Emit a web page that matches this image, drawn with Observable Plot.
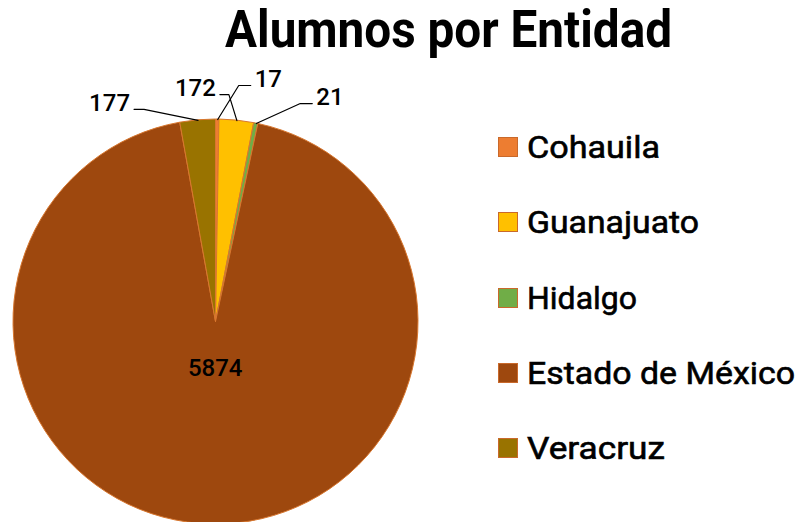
<!DOCTYPE html>
<html>
<head>
<meta charset="utf-8">
<script src="https://cdn.jsdelivr.net/npm/d3@7"></script>
<script src="https://cdn.jsdelivr.net/npm/@observablehq/plot@0.6"></script>
<style>
  html, body { margin: 0; padding: 0; background: #fff; }
  #wrap { position: relative; width: 797px; height: 522px; overflow: hidden; font-family: Roboto, "DejaVu Sans", sans-serif; }
  #title { position: absolute; left: 0; top: 4px; width: 797px; height: 58px; white-space: nowrap; }
  #title span { position: absolute; font-weight: 700; font-size: 52px; line-height: 52px; color: #000; transform-origin: left top; }
  #chart { position: absolute; left: 0; top: 62px; }
  #legend { position: absolute; left: 498px; top: 0; }
  .item { position: absolute; left: 0; white-space: nowrap; }
  .sw { position: absolute; left: 0; width: 18px; height: 18px; box-sizing: content-box; }
  .lab { position: absolute; left: 29px; font-size: 32px; font-weight: 400; line-height: 32px; color: #000; -webkit-text-stroke: 0.6px #000; transform-origin: left center; }
</style>
</head>
<body>
<div id="wrap">
  <div id="title"></div>
  <div id="chart"></div>
  <div id="legend"></div>
</div>
<script>
// ---- data ----
const titleText = "Alumnos por Entidad";
const categories = ["Cohauila", "Guanajuato", "Hidalgo", "Estado de México", "Veracruz"];
const values = [17, 172, 21, 5874, 177];
const colors = ["#ED7D31", "#FFC000", "#70AD47", "#9E480E", "#997300"];

// ---- layout (pixels) ----
const R = 202.5;               // pie radius
const CX = 215.5, CY = 259.5;  // pie centre inside the svg
const SVG_W = 797, SVG_H = 460;
// leader: elbow offset from rim anchor, then horizontal segment length (sign = side)
const leaderElbow = [[21, -34], [-8, -26], [44, -20], null, [-54, -11]];
const leaderRun = [12, -9, 12, null, -10];
const insideRadius = 0.23;     // for labels drawn inside a slice
const legendRows = [147, 222, 298, 373, 448]; // page y centres
const legendTextWidth = [133, 172, 110, 268, 138];

const slices = categories.map((c, i) => ({category: c, value: values[i], color: colors[i]}));
const arcs = d3.pie().sort(null).value(d => d.value)(slices);

// data-space helpers (unit circle, y up)
const polar = (a, r) => [r * Math.sin(a), r * Math.cos(a)];

const leaderPts = [];
const labelsLeft = [], labelsRight = [], labelsInside = [];
arcs.forEach((a, i) => {
  const mid = (a.startAngle + a.endAngle) / 2;
  const d = a.data;
  if (!leaderElbow[i]) {
    const [x, y] = polar(mid, insideRadius);
    labelsInside.push({x, y, text: String(d.value)});
    return;
  }
  const [ax, ay] = polar(mid, 1);
  const ex = ax + leaderElbow[i][0] / R, ey = ay - leaderElbow[i][1] / R;
  const tx = ex + leaderRun[i] / R, ty = ey;
  leaderPts.push({k: d.category, x: ax, y: ay}, {k: d.category, x: ex, y: ey}, {k: d.category, x: tx, y: ty});
  const gap = 4 / R;
  const lab = {x: tx + (leaderRun[i] > 0 ? gap : -gap), y: ty - 1.5 / R, text: String(d.value)};
  (leaderRun[i] > 0 ? labelsRight : labelsLeft).push(lab);
});

function pieMark(index, scales) {
  const cx = scales.x(0), cy = scales.y(0), r = scales.x(1) - scales.x(0);
  const arc = d3.arc().innerRadius(0).outerRadius(r);
  const g = d3.create("svg:g").attr("transform", `translate(${cx},${cy})`);
  g.selectAll("path").data(arcs).join("path")
    .attr("d", arc)
    .attr("fill", d => d.data.color)
    .attr("stroke", "#D8772F")
    .attr("stroke-width", 1)
    .attr("stroke-linejoin", "round");
  return g.node();
}

const plot = Plot.plot({
  width: SVG_W,
  height: SVG_H,
  axis: null,
  x: {domain: [-1, 1], range: [CX - R, CX + R]},
  y: {domain: [-1, 1], range: [CY + R, CY - R]},
  style: {background: "transparent", fontFamily: "Roboto, sans-serif", overflow: "visible"},
  marks: [
    pieMark,
    Plot.line(leaderPts, {x: "x", y: "y", z: "k", stroke: "#000", strokeWidth: 1.2}),
    Plot.text(labelsLeft, {x: "x", y: "y", text: "text", textAnchor: "end", lineAnchor: "bottom", fontSize: 24, fontWeight: 500, fill: "#000"}),
    Plot.text(labelsRight, {x: "x", y: "y", text: "text", textAnchor: "start", lineAnchor: "bottom", fontSize: 24, fontWeight: 500, fill: "#000"}),
    Plot.text(labelsInside, {x: "x", y: "y", text: "text", textAnchor: "middle", lineAnchor: "middle", fontSize: 24, fontWeight: 500, fill: "#000"})
  ]
});
document.getElementById("chart").appendChild(plot);

// title, fitted to the reference width
const ctx = document.createElement("canvas").getContext("2d");
const tEl = document.createElement("span");
tEl.textContent = titleText;
ctx.font = "700 52px Roboto";
const tw = ctx.measureText(titleText).width;
const targetW = 447;
const sx = targetW / tw;
tEl.style.left = (448.5 - targetW / 2) + "px";
tEl.style.transform = `scaleX(${sx})`;
document.getElementById("title").appendChild(tEl);

// legend
const legend = document.getElementById("legend");
ctx.font = "400 32px Roboto";
categories.forEach((c, i) => {
  const it = document.createElement("div");
  it.className = "item";
  it.style.top = (legendRows[i]) + "px";
  const sw = document.createElement("div");
  sw.className = "sw";
  sw.style.background = colors[i];
  sw.style.border = "1px solid #C9692B";
  sw.style.top = "-10px";
  const lb = document.createElement("div");
  lb.className = "lab";
  lb.textContent = c;
  lb.style.top = "-16px";
  const w = ctx.measureText(c).width;
  lb.style.transform = `scaleX(${legendTextWidth[i] / w})`;
  it.appendChild(sw);
  it.appendChild(lb);
  legend.appendChild(it);
});
</script>
</body>
</html>
